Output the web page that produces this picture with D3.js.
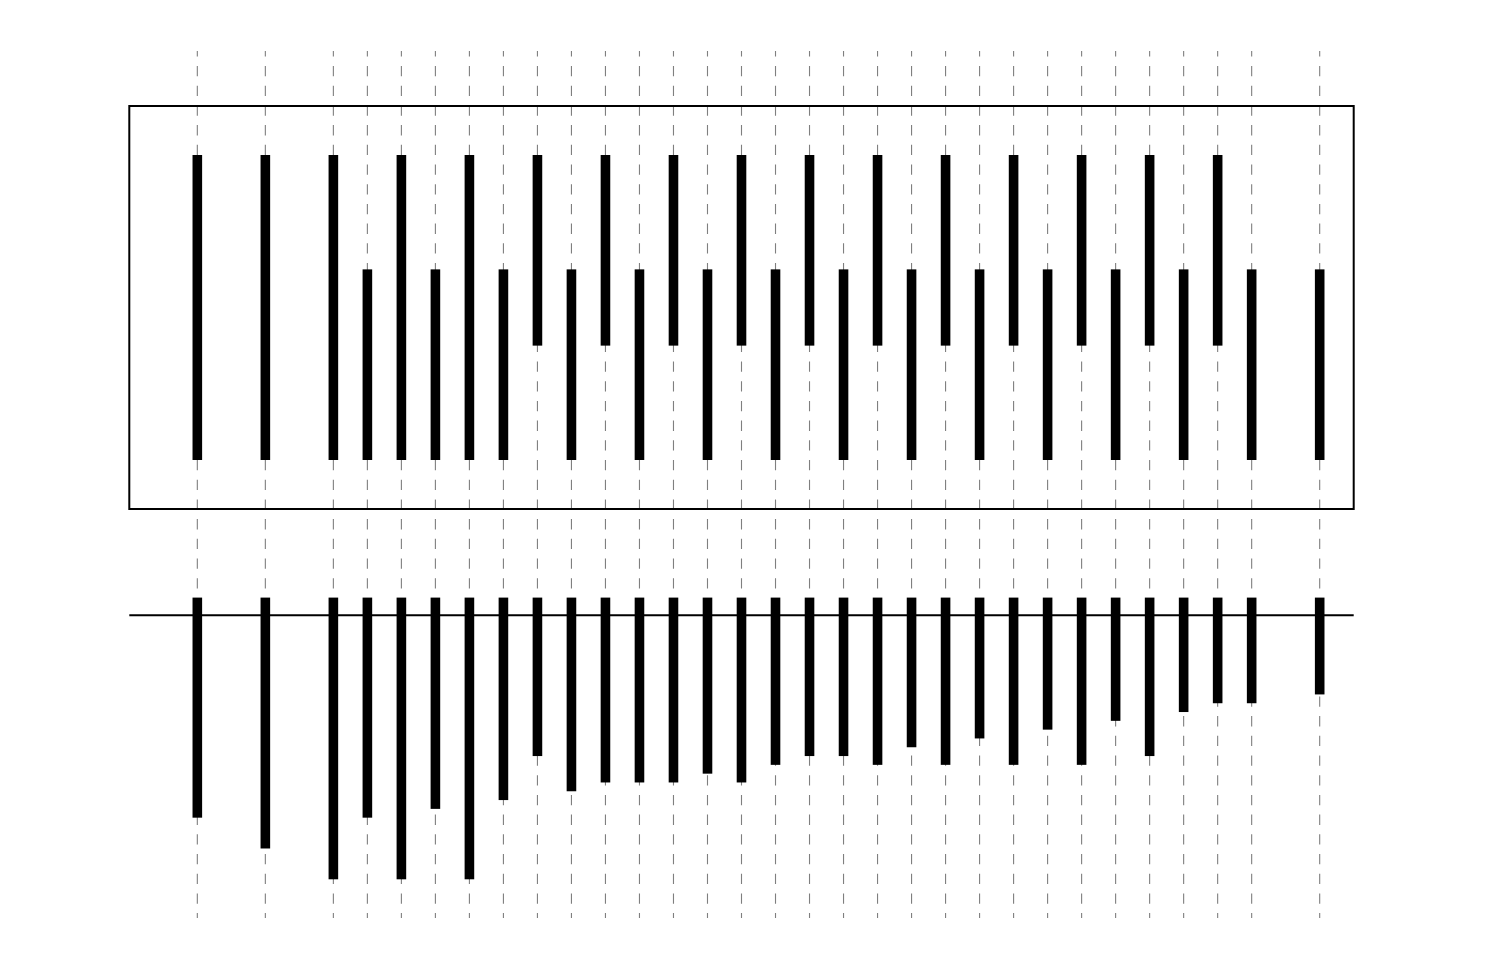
<!DOCTYPE html>
<html>
<head>
<meta charset="utf-8">
<script src="https://cdn.jsdelivr.net/npm/d3@7"></script>
<style>
  html, body { margin: 0; padding: 0; background: #fff; }
  svg { display: block; }
</style>
</head>
<body>
<svg id="chart" width="1500" height="971"></svg>
<script>
// ---- data ----
const positions = [0, 2, 4, 5, 6, 7, 8, 9, 10, 11, 12, 13, 14, 15, 16, 17, 18, 19, 20, 21, 22, 23, 24, 25, 26, 27, 28, 29, 30, 31, 33];
const topLow  = [0, 0, 0, 0, 0, 0, 0, 0, 3, 0, 3, 0, 3, 0, 3, 0, 3, 0, 3, 0, 3, 0, 3, 0, 3, 0, 3, 0, 3, 0, 0];
const topHigh = [8, 8, 8, 5, 8, 5, 8, 5, 8, 5, 8, 5, 8, 5, 8, 5, 8, 5, 8, 5, 8, 5, 8, 5, 8, 5, 8, 5, 8, 5, 5];
const bottomDepth = [23, 26.5, 30, 23, 30, 22, 30, 21, 16, 20, 19, 19, 19, 18, 19, 17, 16, 16, 17, 15, 17, 14, 17, 13, 17, 12, 16, 11, 10, 10, 9];
const bottomTop = 2;

// ---- layout ----
const svg = d3.select("#chart");
const x = d3.scaleLinear().domain([-2, 34]).range([129.3, 1353.7]);
const yTop = d3.scaleLinear().domain([0, 8]).range([460, 155]);
const yBot = d3.scaleLinear().domain([0, -30]).range([615.2, 879.3]);
const barW = 9.6;

// dashed vertical grid lines
svg.append("g").selectAll("line").data(positions).join("line")
  .attr("x1", d => x(d)).attr("x2", d => x(d))
  .attr("y1", 51).attr("y2", 918)
  .attr("stroke", "#7f7f7f").attr("stroke-width", 1.1)
  .attr("stroke-dasharray", "10.3,9.4")
  .attr("stroke-dashoffset", 4.7);

// top panel bars
svg.append("g").selectAll("rect").data(positions).join("rect")
  .attr("x", d => x(d) - barW / 2)
  .attr("width", barW)
  .attr("y", (d, i) => yTop(topHigh[i]))
  .attr("height", (d, i) => yTop(topLow[i]) - yTop(topHigh[i]))
  .attr("fill", "#000");

// top panel frame
svg.append("rect")
  .attr("x", x(-2)).attr("y", 106)
  .attr("width", x(34) - x(-2)).attr("height", 403)
  .attr("fill", "none").attr("stroke", "#000").attr("stroke-width", 2);

// bottom panel bars
svg.append("g").selectAll("rect").data(positions).join("rect")
  .attr("x", d => x(d) - barW / 2)
  .attr("width", barW)
  .attr("y", yBot(bottomTop))
  .attr("height", (d, i) => yBot(-bottomDepth[i]) - yBot(bottomTop))
  .attr("fill", "#000");

// bottom baseline
svg.append("line")
  .attr("x1", x(-2)).attr("x2", x(34))
  .attr("y1", yBot(0)).attr("y2", yBot(0))
  .attr("stroke", "#000").attr("stroke-width", 2);
</script>
</body>
</html>
